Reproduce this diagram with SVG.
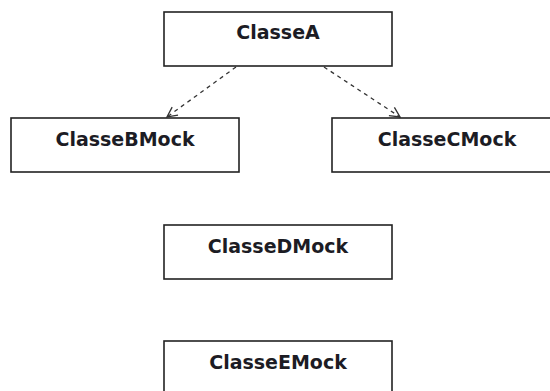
<svg xmlns="http://www.w3.org/2000/svg" width="550" height="391" viewBox="0 0 550 391">
  <defs>
    <style>
      .box { fill: #ffffff; stroke: #222222; stroke-width: 1.6; }
      .lbl { font-family: "DejaVu Sans", Verdana, sans-serif; font-weight: bold; font-size: 19px; fill: #1c1c24; text-anchor: middle; }
      .dep { fill: none; stroke: #333333; stroke-width: 1.3; stroke-dasharray: 4 4; }
    </style>
    <marker id="open" viewBox="0 0 12 12" refX="11" refY="6" markerWidth="12" markerHeight="12" markerUnits="userSpaceOnUse" orient="auto">
      <path d="M1,1 L11,6 L1,11" fill="none" stroke="#333333" stroke-width="1.3"/>
    </marker>
  </defs>
  <rect width="550" height="391" fill="#ffffff"/>
  <g id="connectors">
    <line class="dep" x1="236" y1="67" x2="167" y2="117" marker-end="url(#open)"/>
    <line class="dep" x1="324" y1="67" x2="400" y2="117" marker-end="url(#open)"/>
  </g>
  <g id="ClasseA">
    <rect class="box" x="164" y="12" width="228" height="54"/>
    <text class="lbl" x="278" y="39">ClasseA</text>
  </g>
  <g id="ClasseBMock">
    <rect class="box" x="11" y="118" width="228" height="54"/>
    <text class="lbl" x="125" y="146">ClasseBMock</text>
  </g>
  <g id="ClasseCMock">
    <rect class="box" x="332" y="118" width="228" height="54"/>
    <text class="lbl" x="447" y="146">ClasseCMock</text>
  </g>
  <g id="ClasseDMock">
    <rect class="box" x="164" y="225" width="228" height="54"/>
    <text class="lbl" x="278" y="253">ClasseDMock</text>
  </g>
  <g id="ClasseEMock">
    <rect class="box" x="164" y="341" width="228" height="54"/>
    <text class="lbl" x="278" y="369">ClasseEMock</text>
  </g>
</svg>
